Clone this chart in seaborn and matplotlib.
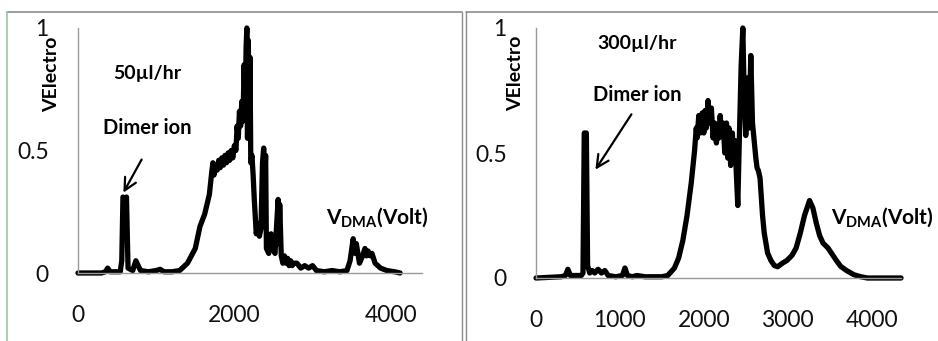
import matplotlib
matplotlib.use('Agg')
import matplotlib.pyplot as plt
import seaborn as sns
import pandas as pd
from matplotlib.lines import Line2D

# ---------------- data ----------------
volt_50 = [0, 300, 350, 380, 410, 540, 560, 575, 600, 620, 640, 700, 740, 770, 800, 900,
           1000, 1050, 1100, 1200, 1300, 1400, 1500, 1560, 1620, 1680, 1710, 1725, 1740,
           1760, 1780, 1800, 1820, 1840, 1860, 1880, 1900, 1920, 1940, 1960, 1980, 2000,
           2020, 2035, 2050, 2065, 2080, 2095, 2110, 2125, 2140, 2150, 2160, 2168, 2178,
           2190, 2200, 2210, 2225, 2240, 2255, 2280, 2300, 2320, 2340, 2360, 2375, 2390,
           2400, 2410, 2440, 2470, 2490, 2520, 2545, 2560, 2570, 2580, 2600, 2620, 2640,
           2660, 2680, 2700, 2720, 2740, 2760, 2800, 2850, 2900, 2950, 3000, 3050, 3150,
           3250, 3350, 3440, 3480, 3520, 3545, 3560, 3600, 3640, 3670, 3690, 3710, 3740,
           3760, 3800, 3870, 3950, 4050, 4120]
sig_50 = [0.0, 0.0, 0.005, 0.02, 0.005, 0.005, 0.05, 0.31, 0.30, 0.31, 0.02, 0.01, 0.05,
          0.03, 0.01, 0.005, 0.01, 0.015, 0.005, 0.005, 0.01, 0.04, 0.10, 0.19, 0.24, 0.32,
          0.41, 0.45, 0.40, 0.44, 0.42, 0.46, 0.43, 0.47, 0.44, 0.48, 0.45, 0.49, 0.46,
          0.50, 0.47, 0.52, 0.50, 0.60, 0.55, 0.66, 0.60, 0.70, 0.62, 0.85, 0.65, 0.92,
          1.0, 0.55, 0.95, 0.60, 0.88, 0.45, 0.48, 0.40, 0.30, 0.16, 0.20, 0.15, 0.18,
          0.45, 0.51, 0.40, 0.48, 0.10, 0.08, 0.16, 0.10, 0.08, 0.22, 0.30, 0.12, 0.28,
          0.07, 0.04, 0.07, 0.04, 0.06, 0.03, 0.05, 0.03, 0.04, 0.04, 0.02, 0.03, 0.02,
          0.03, 0.01, 0.005, 0.01, 0.005, 0.01, 0.05, 0.14, 0.08, 0.12, 0.04, 0.07, 0.10,
          0.07, 0.09, 0.07, 0.08, 0.04, 0.02, 0.01, 0.005, 0.0]

volt_300 = [0, 300, 350, 380, 410, 540, 560, 575, 600, 615, 640, 670, 700, 740, 780, 820,
            860, 950, 1030, 1060, 1090, 1150, 1200, 1300, 1500, 1570, 1650, 1700, 1750,
            1800, 1850, 1890, 1910, 1920, 1940, 1960, 1980, 2000, 2015, 2030, 2050, 2070,
            2090, 2110, 2130, 2150, 2165, 2180, 2195, 2210, 2230, 2250, 2270, 2285, 2300,
            2320, 2340, 2355, 2370, 2390, 2405, 2425, 2445, 2465, 2480, 2500, 2520, 2540,
            2560, 2580, 2600, 2620, 2635, 2650, 2670, 2700, 2720, 2760, 2800, 2840, 2880,
            2940, 2990, 3050, 3100, 3150, 3200, 3260, 3300, 3340, 3380, 3420, 3480, 3520,
            3580, 3630, 3700, 3790, 3870, 3950, 4350]
sig_300 = [0.0, 0.005, 0.01, 0.035, 0.01, 0.01, 0.02, 0.58, 0.58, 0.05, 0.02, 0.03, 0.02,
           0.035, 0.02, 0.03, 0.01, 0.005, 0.01, 0.04, 0.01, 0.005, 0.01, 0.005, 0.005,
           0.01, 0.04, 0.08, 0.15, 0.25, 0.38, 0.51, 0.60, 0.56, 0.65, 0.58, 0.66, 0.58,
           0.67, 0.60, 0.71, 0.62, 0.68, 0.56, 0.62, 0.54, 0.60, 0.56, 0.65, 0.58, 0.62,
           0.50, 0.62, 0.48, 0.60, 0.45, 0.58, 0.47, 0.55, 0.40, 0.29, 0.58, 0.85, 1.0,
           0.75, 0.57, 0.80, 0.60, 0.89, 0.62, 0.55, 0.48, 0.44, 0.43, 0.40, 0.25, 0.18,
           0.10, 0.07, 0.05, 0.045, 0.06, 0.07, 0.09, 0.12, 0.18, 0.25, 0.31, 0.28, 0.22,
           0.17, 0.14, 0.12, 0.10, 0.07, 0.047, 0.03, 0.013, 0.005, 0.0, 0.0]

x_ticks_50 = [0, 2000, 4000]
x_ticks_300 = [0, 1000, 2000, 3000, 4000]
y_ticks = [0, 0.5, 1]
y_tick_labels = ['0', '0.5', '1']
flow_labels = ['50\u00b5l/hr', '300\u00b5l/hr']
y_label = 'VElectro'
annot_label = 'Dimer ion'

# ---------------- style ----------------
sns.set_theme(style='white')
plt.rcParams['font.family'] = ['Lato', 'DejaVu Sans']
plt.rcParams['mathtext.fontset'] = 'custom'
plt.rcParams['mathtext.bf'] = 'Lato:bold'
plt.rcParams['mathtext.rm'] = 'Lato:bold'

fig = plt.figure(figsize=(9.38, 3.41), dpi=100)
W, H = 938, 341

def fx(px):
    return px / W

def fy(py):
    return 1 - py / H

# panel frames
frame_c = '#8c8c8c'
fig.add_artist(Line2D([fx(7), fx(462)], [fy(12), fy(12)], color=frame_c, lw=1.2))
fig.add_artist(Line2D([fx(7), fx(7)], [fy(12), fy(341)], color='#9cc89c', lw=1.2))
fig.add_artist(Line2D([fx(462), fx(462)], [fy(12), fy(341)], color=frame_c, lw=1.0))
fig.add_artist(Line2D([fx(466), fx(466)], [fy(12), fy(341)], color=frame_c, lw=1.0))
fig.add_artist(Line2D([fx(466), fx(938)], [fy(12), fy(12)], color=frame_c, lw=1.2))

panels = [
    dict(volt=volt_50, sig=sig_50, rect=[fx(78), fy(273), 344 / W, 245 / H],
         xlim=(0, 4400), xticks=x_ticks_50, label=flow_labels[0],
         flow_xy=(882, 0.816), dimer_xy=(882, 0.59),
         arrow_tail=(831, 0.473), arrow_head=(563, 0.318),
         vdma_xy=(3824, 0.224), ylab_xy=(-0.052, 0.81)),
    dict(volt=volt_300, sig=sig_300, rect=[fx(536), fy(278), 365 / W, 250 / H],
         xlim=(0, 4350), xticks=x_ticks_300, label=flow_labels[1],
         flow_xy=(1202, 0.94), dimer_xy=(1202, 0.732),
         arrow_tail=(1155, 0.664), arrow_head=(690, 0.424),
         vdma_xy=(4131, 0.24), ylab_xy=(-0.033, 0.82)),
]

for p in panels:
    ax = fig.add_axes(p['rect'])
    df = pd.DataFrame({'V': p['volt'], 'S': p['sig']})
    sns.lineplot(data=df, x='V', y='S', ax=ax, color='black', lw=3.8,
                 estimator=None, sort=False)
    for ln in ax.lines:
        ln.set_clip_on(False)
    ax.set_xlim(*p['xlim'])
    ax.set_ylim(0, 1)
    ax.set_xticks(p['xticks'])
    ax.set_xticklabels([str(t) for t in p['xticks']])
    ax.set_yticks(y_ticks)
    ax.set_yticklabels(y_tick_labels)
    ax.set_xlabel('')
    ax.set_ylabel(y_label, fontsize=14, fontweight='bold', color='black')
    ax.yaxis.set_label_coords(*p['ylab_xy'])
    for s in ['top', 'right']:
        ax.spines[s].set_visible(False)
    for s in ['left', 'bottom']:
        ax.spines[s].set_color('#9a9a9a')
        ax.spines[s].set_linewidth(1.0)
    ax.tick_params(axis='both', direction='out', length=5, width=1, color='#9a9a9a',
                   labelsize=16.5, labelcolor='#111111')
    ax.tick_params(axis='x', pad=18)
    ax.tick_params(axis='y', pad=16)
    ax.set_facecolor('none')

    ax.text(*p['flow_xy'], p['label'], ha='center', va='center', fontsize=14,
            fontweight='bold', color='black')
    ax.text(*p['dimer_xy'], annot_label, ha='center', va='center', fontsize=14.5,
            fontweight='bold', color='black')
    ax.annotate('', xy=p['arrow_head'], xytext=p['arrow_tail'],
                arrowprops=dict(arrowstyle='->', lw=1.6, color='black', mutation_scale=22))
    ax.text(*p['vdma_xy'], r'V$_{\mathbf{DMA}}$(Volt)', ha='center', va='center',
            fontsize=15, fontweight='bold', color='black', clip_on=False)

fig.savefig('out.png', dpi=100, facecolor='white')
